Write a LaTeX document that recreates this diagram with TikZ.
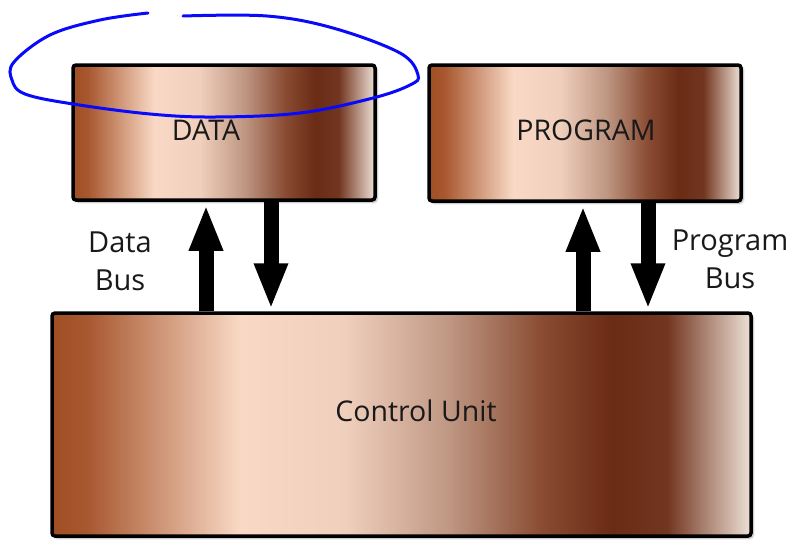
\documentclass[tikz,border=0pt]{standalone}
\usepackage{fontspec}
\setmainfont{Open Sans}
\usetikzlibrary{arrows.meta,shadows.blur}
\definecolor{cpRust}{RGB}{160,78,34}
\definecolor{cpRustB}{RGB}{168,88,48}
\definecolor{cpPeach}{RGB}{249,217,197}
\definecolor{cpPale}{RGB}{240,207,189}
\definecolor{cpDusk}{RGB}{190,150,130}
\definecolor{cpMid}{RGB}{138,76,51}
\definecolor{cpDark}{RGB}{107,43,21}
\definecolor{cpDarkB}{RGB}{114,54,32}
\definecolor{cpLight}{RGB}{238,224,214}
\definecolor{penblue}{RGB}{10,10,250}
\pgfdeclarehorizontalshading{copper}{100bp}{color(0bp)=(cpRust); color(25bp)=(cpRust);
  color(27.5bp)=(cpRustB); color(38.5bp)=(cpPeach); color(46bp)=(cpPale);
  color(53.5bp)=(cpDusk); color(60bp)=(cpMid); color(65bp)=(cpDark);
  color(69bp)=(cpDarkB); color(75bp)=(cpLight); color(100bp)=(cpLight)}

\begin{document}
\begin{tikzpicture}[x=1pt,y=-1pt,
  membox/.style={rectangle,draw=black,line width=3.5pt,rounded corners=3pt,shading=copper,
    blur shadow={shadow xshift=2pt,shadow yshift=-2pt,shadow opacity=35,shadow blur steps=6}},
  boxtext/.style={anchor=base,font=\fontsize{28.5}{32}\selectfont,text=black!90},
  buslbl/.style={anchor=base,align=center,font=\fontsize{29}{38}\selectfont,text=black!90},
  bus/.style={line width=15pt,-{Triangle[length=46pt,width=31pt]}}]
  \useasboundingbox (0,0) rectangle (790,539);
  \node[membox,minimum width=302pt,minimum height=135pt] (data) at (224,132.5) {};
  \node[membox,minimum width=312pt,minimum height=136pt] (prog) at (585,133) {};
  \node[membox,minimum width=699pt,minimum height=223pt] (cu) at (401.5,424.5) {};
  \node[boxtext] (datalbl) at (206,140) {DATA};
  \node[boxtext] (proglbl) at (586,140) {PROGRAM};
  \node[boxtext] (culbl) at (416,421) {Control Unit};
  \node[buslbl] (dbus) at (120,290) {Data\\Bus};
  \node[buslbl] (pbus) at (730,288) {Program\\Bus};
  % buses
  \draw[bus,shorten >=3pt] ([xshift=-18pt]data.south |- cu.north) -- ([xshift=-18pt]data.south);
  \draw[bus,shorten >=2pt] ([xshift=47pt]data.south) -- ([xshift=47pt]data.south |- cu.north);
  \draw[bus,shorten >=3pt] ([xshift=-2pt]prog.south |- cu.north) -- ([xshift=-2pt]prog.south);
  \draw[bus,shorten >=2pt] ([xshift=63pt]prog.south) -- ([xshift=63pt]prog.south |- cu.north);
  % pen loop round DATA
  \draw[penblue,line width=3pt,line cap=round] plot[smooth,tension=0.6] coordinates {(148,13) (100,20) (50,35)
    (14,62) (12,80) (25,94) (73,104) (150,114) (215,117) (300,113) (373,98) (410,85)
    (418,75) (400,53) (333,28) (267,16) (183,16)};
\end{tikzpicture}
\end{document}
